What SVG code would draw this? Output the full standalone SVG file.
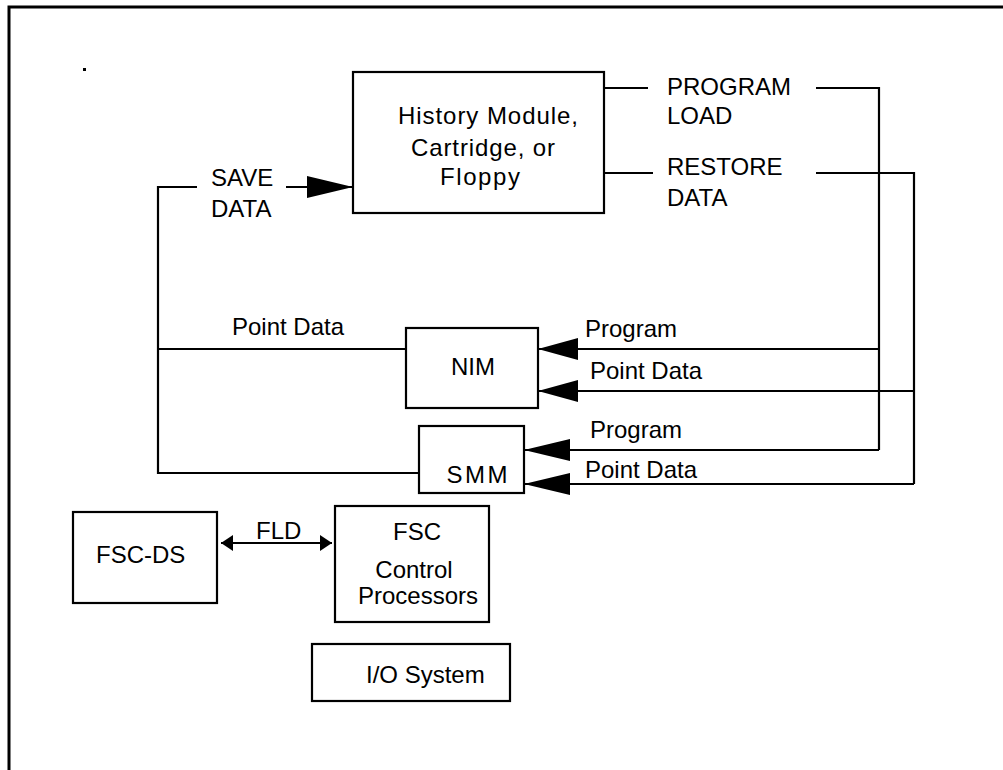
<svg xmlns="http://www.w3.org/2000/svg" width="1003" height="770" viewBox="0 0 1003 770">
  <style>
    text { font-family: "Liberation Sans", Arial, sans-serif; font-size: 24px; fill: #000; }
    .box { fill: #fff; stroke: #000; stroke-width: 2.2; }
    .wire { fill: none; stroke: #000; stroke-width: 2.2; }
    .frame { fill: none; stroke: #000; stroke-width: 3; }
  </style>
  <defs>
    <marker id="bigArrow" markerUnits="userSpaceOnUse" markerWidth="46" markerHeight="24" refX="46" refY="11" orient="auto">
      <path d="M0,0 L46,11 L0,22 Z" fill="#000"/>
    </marker>
    <marker id="midArrow" markerUnits="userSpaceOnUse" markerWidth="40" markerHeight="22" refX="40" refY="11" orient="auto">
      <path d="M0,0 L40,11 L0,22 Z" fill="#000"/>
    </marker>
    <marker id="smallArrow" markerUnits="userSpaceOnUse" markerWidth="12" markerHeight="18" refX="12" refY="8" orient="auto-start-reverse">
      <path d="M0,0 L12,8 L0,16 Z" fill="#000"/>
    </marker>
  </defs>

  <!-- page frame -->
  <path class="frame" d="M9,770 V7 H1003"/>
  <rect x="83" y="68" width="3" height="3" fill="#000"/>

  <!-- connectors -->
  <g id="connectors">
    <!-- save path from NIM/SMM to storage -->
    <path class="wire" d="M197,187 H158 V473 H419"/>
    <path class="wire" d="M158,349 H406"/>
    <path class="wire" d="M286,187 H353" marker-end="url(#bigArrow)"/>
    <!-- program load -->
    <path class="wire" d="M604,88 H648"/>
    <path class="wire" d="M816,88 H879 V450"/>
    <path class="wire" d="M879,349 H538" marker-end="url(#midArrow)"/>
    <path class="wire" d="M879,450 H524" marker-end="url(#bigArrow)"/>
    <!-- restore data -->
    <path class="wire" d="M604,173 H653"/>
    <path class="wire" d="M816,173 H914 V484"/>
    <path class="wire" d="M914,391 H538" marker-end="url(#midArrow)"/>
    <path class="wire" d="M914,484 H524" marker-end="url(#bigArrow)"/>
    <!-- FLD link -->
    <path class="wire" d="M221,543 H332" marker-start="url(#smallArrow)" marker-end="url(#smallArrow)"/>
  </g>

  <!-- connector labels -->
  <g id="labels">
    <text x="211" y="186">SAVE</text>
    <text x="211" y="217">DATA</text>
    <text x="667" y="95">PROGRAM</text>
    <text x="667" y="124">LOAD</text>
    <text x="667" y="175">RESTORE</text>
    <text x="667" y="206">DATA</text>
    <text x="232" y="335">Point Data</text>
    <text x="585" y="337">Program</text>
    <text x="590" y="379">Point Data</text>
    <text x="590" y="438">Program</text>
    <text x="585" y="478">Point Data</text>
    <text x="256" y="539" font-size="22">FLD</text>
  </g>

  <g id="history">
    <rect class="box" x="353" y="72" width="251" height="141"/>
    <text x="398" y="124" textLength="180" lengthAdjust="spacing">History Module,</text>
    <text x="411" y="156" textLength="144" lengthAdjust="spacing">Cartridge, or</text>
    <text x="440" y="185" textLength="80" lengthAdjust="spacing">Floppy</text>
  </g>

  <g id="nim">
    <rect class="box" x="406" y="328" width="132" height="80"/>
    <text x="473" y="375" text-anchor="middle">NIM</text>
  </g>

  <g id="smm">
    <rect class="box" x="419" y="426" width="105" height="67"/>
    <text x="477" y="483" text-anchor="middle" textLength="61" lengthAdjust="spacing">SMM</text>
  </g>

  <g id="fsc-ds">
    <rect class="box" x="73" y="512" width="144" height="91"/>
    <text x="96" y="563">FSC-DS</text>
  </g>

  <g id="fsc">
    <rect class="box" x="335" y="506" width="154" height="116"/>
    <text x="417" y="540" text-anchor="middle">FSC</text>
    <text x="414" y="578" text-anchor="middle">Control</text>
    <text x="418" y="604" text-anchor="middle">Processors</text>
  </g>

  <g id="io-system">
    <rect class="box" x="312" y="644" width="198" height="57"/>
    <text x="366" y="683">I/O System</text>
  </g>
</svg>
